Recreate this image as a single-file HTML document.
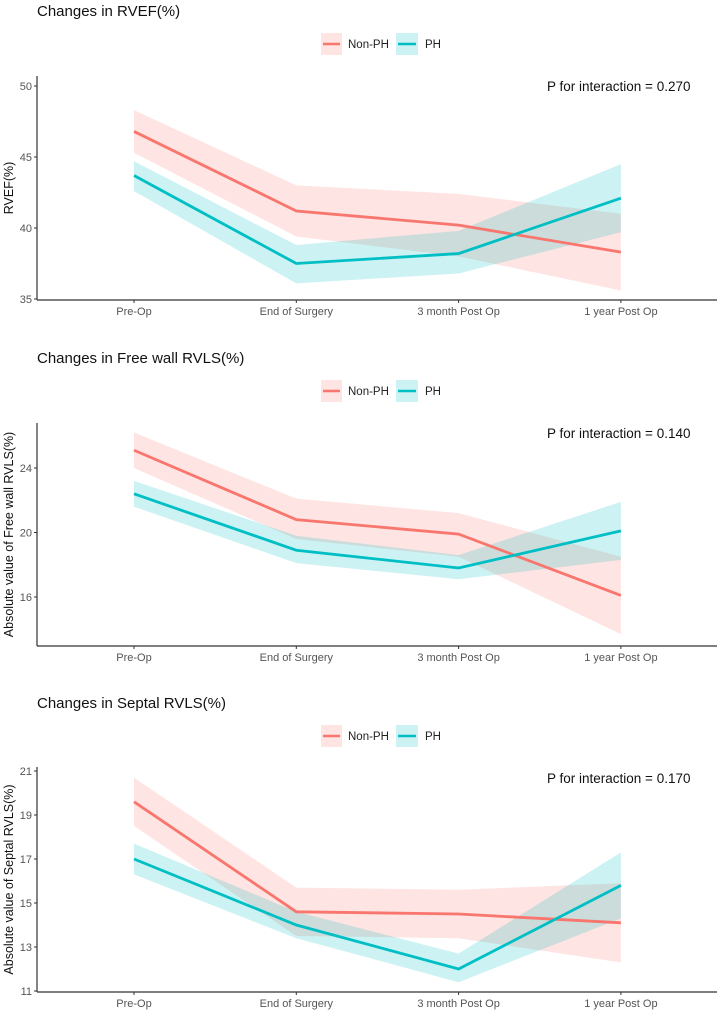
<!DOCTYPE html>
<html><head><meta charset="utf-8"><style>
html,body{margin:0;padding:0;background:#fff;}
svg{display:block;font-family:"Liberation Sans",sans-serif;}
</style></head><body>
<svg id="chart" width="720" height="1013"></svg>
<script>
const categories = ["Pre-Op","End of Surgery","3 month Post Op","1 year Post Op"];
const titles = ["Changes in RVEF(%)","Changes in Free wall RVLS(%)","Changes in Septal RVLS(%)"];
const yTitles = ["RVEF(%)","Absolute value of Free wall RVLS(%)","Absolute value of Septal RVLS(%)"];
const pTexts = ["P for interaction = 0.270","P for interaction = 0.140","P for interaction = 0.170"];
const yTicks1 = [35,40,45,50];
const yTicks2 = [16,20,24];
const yTicks3 = [11,13,15,17,19,21];
const nonPH1 = [46.8,41.2,40.2,38.3];
const nonPH1Lo = [45.3,39.4,38.0,35.6];
const nonPH1Hi = [48.3,43.0,42.4,41.0];
const ph1 = [43.7,37.5,38.2,42.1];
const ph1Lo = [42.6,36.1,36.8,39.7];
const ph1Hi = [44.7,38.8,39.8,44.5];
const nonPH2 = [25.1,20.8,19.9,16.1];
const nonPH2Lo = [24.0,19.6,18.5,13.7];
const nonPH2Hi = [26.2,22.1,21.2,18.5];
const ph2 = [22.4,18.9,17.8,20.1];
const ph2Lo = [21.6,18.1,17.1,18.3];
const ph2Hi = [23.2,19.8,18.6,21.9];
const nonPH3 = [19.6,14.6,14.5,14.1];
const nonPH3Lo = [18.5,13.5,13.4,12.3];
const nonPH3Hi = [20.7,15.7,15.6,15.9];
const ph3 = [17.0,14.0,12.0,15.8];
const ph3Lo = [16.3,13.4,11.4,14.3];
const ph3Hi = [17.7,14.6,12.7,17.3];

const RED="#F8766D", TEAL="#00BFC4";
const svg=document.getElementById('chart');
const NS="http://www.w3.org/2000/svg";
function mk(tag,attrs,parent){const e=document.createElementNS(NS,tag);for(const k in attrs)e.setAttribute(k,attrs[k]);(parent||svg).appendChild(e);return e;}
function txt(s,attrs,parent){const e=mk('text',attrs,parent);e.textContent=s;return e;}

const panels=[
 {off:0, top:76, bottom:300, v0:35, y0:299, v1:50, y1:86, ticks:yTicks1, s:[[nonPH1,nonPH1Lo,nonPH1Hi],[ph1,ph1Lo,ph1Hi]]},
 {off:347, top:423, bottom:646, v0:16, y0:597, v1:24, y1:468, ticks:yTicks2, s:[[nonPH2,nonPH2Lo,nonPH2Hi],[ph2,ph2Lo,ph2Hi]]},
 {off:692, top:767, bottom:992, v0:11, y0:991, v1:21, y1:771, ticks:yTicks3, s:[[nonPH3,nonPH3Lo,nonPH3Hi],[ph3,ph3Lo,ph3Hi]]}
];
const xPos=i=>134+i*162.3;
const axX=37;

panels.forEach((p,pi)=>{
  const g=mk('g',{});
  
  
  const yS=v=>p.y0+(v-p.v0)*(p.y1-p.y0)/(p.v1-p.v0);
  const t=txt(titles[pi],{x:37,y:p.off+16,'font-size':15,fill:'#111'},g);
  
  
  const lg=mk('g',{},g);
  
  
  const ly=p.off+44;
  mk('rect',{x:321,y:ly-11,width:21,height:22,fill:RED,'fill-opacity':0.2},lg);
  mk('line',{x1:323,x2:340,y1:ly,y2:ly,stroke:RED,'stroke-width':2.5},lg);
  txt('Non-PH',{x:348,y:ly+4,'font-size':11.5,fill:'#222'},lg);
  mk('rect',{x:396,y:ly-11,width:22,height:22,fill:TEAL,'fill-opacity':0.2},lg);
  mk('line',{x1:398,x2:416,y1:ly,y2:ly,stroke:TEAL,'stroke-width':2.5},lg);
  txt('PH',{x:425,y:ly+4,'font-size':11.5,fill:'#222'},lg);
  const pt=txt(pTexts[pi],{x:547,y:p.off+91,'font-size':13.5,fill:'#111'},g);
  
  
  p.s.forEach((ser,si)=>{
    const col=si?TEAL:RED;
    const [m,lo,hi]=ser;
    let d='M'+hi.map((v,i)=>xPos(i)+','+yS(v)).join('L')+'L'+lo.map((v,i)=>xPos(i)+','+yS(v)).reverse().join('L')+'Z';
    const band=mk('path',{d:d,fill:col,'fill-opacity':0.2},g);
    
    
  });
  p.s.forEach((ser,si)=>{
    const col=si?TEAL:RED;
    const line=mk('polyline',{points:ser[0].map((v,i)=>xPos(i)+','+yS(v)).join(' '),fill:'none',stroke:col,'stroke-width':2.8},g);
    
    
  });
  mk('line',{x1:axX,x2:axX,y1:p.top,y2:p.bottom,stroke:'#333','stroke-width':1.2},g);
  mk('line',{x1:axX,x2:717,y1:p.bottom,y2:p.bottom,stroke:'#333','stroke-width':1.2},g);
  p.ticks.forEach(v=>{
    const y=yS(v);
    mk('line',{x1:axX-3,x2:axX,y1:y,y2:y,stroke:'#333'},g);
    const tl=txt(String(v),{x:axX-5,y:y+4,'font-size':11,fill:'#555','text-anchor':'end'},g);
    
    
  });
  categories.forEach((c,i)=>{
    mk('line',{x1:xPos(i),x2:xPos(i),y1:p.bottom,y2:p.bottom+3,stroke:'#333'},g);
    const xl=txt(c,{x:xPos(i),y:p.bottom+15,'font-size':11,fill:'#555','text-anchor':'middle'},g);
    
    
  });
  const cy=(p.top+p.bottom)/2;
  const yt=txt(yTitles[pi],{x:13,y:cy,'font-size':12.5,fill:'#111','text-anchor':'middle',transform:'rotate(-90 13 '+cy+')'},g);
  
  
});
</script>
</body></html>
